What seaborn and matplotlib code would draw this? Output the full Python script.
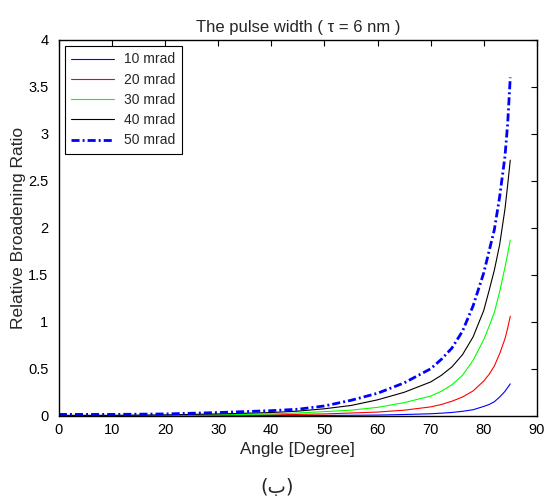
import numpy as np
import pandas as pd
import matplotlib
matplotlib.use("Agg")
import matplotlib.pyplot as plt
import seaborn as sns

angles = [0, 10, 20, 30, 40, 45, 50, 55, 60, 65, 70, 72, 74, 76, 78, 80, 81, 82, 83, 84, 84.5, 85]
r10 = [0.001, 0.001, 0.001, 0.002, 0.003, 0.003, 0.004, 0.006, 0.008, 0.014, 0.022, 0.028, 0.036, 0.048, 0.065, 0.10, 0.12, 0.15, 0.20, 0.26, 0.30, 0.34]
r20 = [0.002, 0.002, 0.003, 0.005, 0.01, 0.015, 0.02, 0.03, 0.04, 0.06, 0.095, 0.12, 0.155, 0.20, 0.265, 0.37, 0.44, 0.53, 0.66, 0.82, 0.93, 1.06]
r30 = [0.003, 0.003, 0.005, 0.01, 0.02, 0.03, 0.045, 0.06, 0.09, 0.14, 0.21, 0.26, 0.33, 0.43, 0.59, 0.81, 0.95, 1.10, 1.32, 1.58, 1.72, 1.87]
r40 = [0.005, 0.005, 0.01, 0.02, 0.035, 0.05, 0.075, 0.11, 0.17, 0.25, 0.36, 0.43, 0.52, 0.65, 0.84, 1.12, 1.33, 1.55, 1.82, 2.20, 2.45, 2.72]
r50 = [0.015, 0.015, 0.02, 0.035, 0.055, 0.07, 0.105, 0.165, 0.24, 0.35, 0.50, 0.60, 0.72, 0.90, 1.17, 1.52, 1.75, 1.98, 2.33, 2.76, 3.10, 3.60]
labels = ["10 mrad", "20 mrad", "30 mrad", "40 mrad", "50 mrad"]
series = [r10, r20, r30, r40, r50]
colors = ["#0000ff", "#ff0000", "#00ff00", "#000000", "#0000ff"]
styles = ["-", "-", "-", "-", (0, (2.9, 1.1, 0.7, 1.1))]
widths = [0.8, 0.8, 0.8, 0.8, 2.0]
xticks = [0, 10, 20, 30, 40, 50, 60, 70, 80, 90]
yticks = [0, 0.5, 1, 1.5, 2, 2.5, 3, 3.5, 4]
ytick_labels = ["0", "0.5", "1", "1.5", "2", "2.5", "3", "3.5", "4"]

sns.set_style("white")
plt.rcParams["font.family"] = ["Liberation Sans", "DejaVu Sans"]

fig = plt.figure(figsize=(5.45, 4.98), dpi=100)
ax = fig.add_axes([0.108, 0.165, 0.877, 0.755])

for lab, vals, c, ls, lw in zip(labels, series, colors, styles, widths):
    df = pd.DataFrame({"angle": angles, "ratio": vals})
    sns.lineplot(data=df, x="angle", y="ratio", ax=ax, color=c, linestyle=ls,
                 linewidth=lw, label=lab, estimator=None, sort=False)

ax.set_xlim(0, 90)
ax.set_ylim(0, 4)
ax.set_xticks(xticks)
ax.set_xticklabels([str(t) for t in xticks])
ax.set_yticks(yticks)
ax.set_yticklabels(ytick_labels)
ax.tick_params(direction="in", length=4, width=0.8, top=True, right=True,
               labelsize=10.5, colors="black")
ax.tick_params(axis="x", pad=5)
ax.tick_params(axis="y", pad=7.5)
for s in ax.spines.values():
    s.set_visible(True)
    s.set_color("black")
    s.set_linewidth(1.0)

ax.set_xlabel("Angle [Degree]", fontsize=12.3, labelpad=4)
ax.set_ylabel("Relative Broadening Ratio", fontsize=12.5, labelpad=1.5)
ax.set_title("The pulse width ( \u03c4 = 6 nm )", fontsize=12, pad=6)

leg = ax.legend(loc="upper left", bbox_to_anchor=(0.013, 0.983), fontsize=10,
                handlelength=3.1, labelspacing=0.45, borderpad=0.45,
                handletextpad=0.7, frameon=True, fancybox=False, framealpha=1,
                edgecolor="black", borderaxespad=0)
leg.get_frame().set_linewidth(0.8)

fig.text(0.508, 0.021, "(\u0628)", fontsize=14, ha="center", va="center",
         family=["DejaVu Sans"])

fig.savefig("out.png", dpi=100)
